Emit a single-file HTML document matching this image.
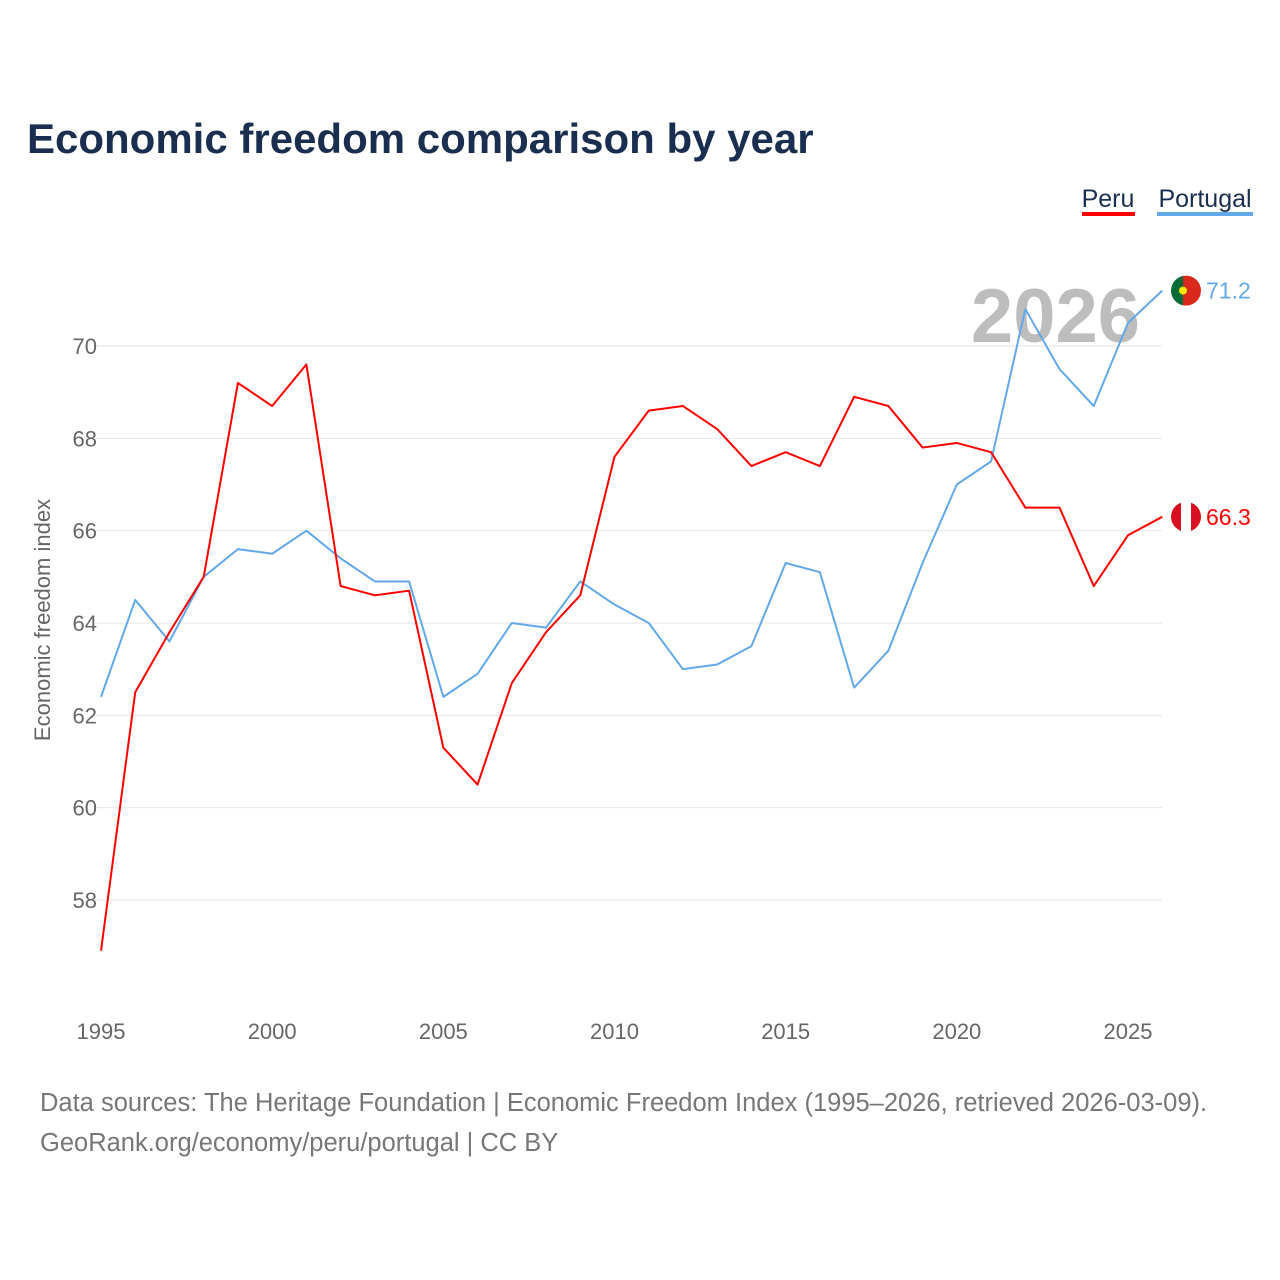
<!DOCTYPE html>
<html><head><meta charset="utf-8">
<style>
html,body{margin:0;padding:0;background:#fff;}
body{width:1280px;height:1280px;position:relative;font-family:"Liberation Sans",sans-serif;overflow:hidden;}
</style></head>
<body>
<svg id="chart" width="1280" height="1280" xmlns="http://www.w3.org/2000/svg" style="position:absolute;left:0;top:0">
<text x="27" y="153" font-size="42" font-weight="bold" fill="#1a2e4f">Economic freedom comparison by year</text>
<g>
<text x="1108" y="207" font-size="25" fill="#1a2e4f" text-anchor="middle">Peru</text>
<rect x="1082" y="212" width="53" height="4" fill="#f00"/>
</g>
<g>
<text x="1205" y="207" font-size="25" fill="#1a2e4f" text-anchor="middle">Portugal</text>
<rect x="1157" y="212" width="96" height="4" fill="#62a8ea"/>
</g>
<text x="1140" y="342" font-size="76" font-weight="bold" fill="#bdbdbd" text-anchor="end">2026</text>
<text transform="translate(50,620) rotate(-90)" font-size="22" fill="#666" text-anchor="middle">Economic freedom index</text>
<g id="grid"></g><g id="yticks"></g><g id="xticks"></g><g id="lines"></g>
<text x="40" y="1111" font-size="25.5" fill="#777">Data sources: The Heritage Foundation | Economic Freedom Index (1995–2026, retrieved 2026-03-09).</text>
<text x="40" y="1151" font-size="25.5" fill="#777">GeoRank.org/economy/peru/portugal | CC BY</text>
</svg>
<script>
const years=[1995,1996,1997,1998,1999,2000,2001,2002,2003,2004,2005,2006,2007,2008,2009,2010,2011,2012,2013,2014,2015,2016,2017,2018,2019,2020,2021,2022,2023,2024,2025,2026];
const peru=[56.9,62.5,63.8,65.0,69.2,68.7,69.6,64.8,64.6,64.7,61.3,60.5,62.7,63.8,64.6,67.6,68.6,68.7,68.2,67.4,67.7,67.4,68.9,68.7,67.8,67.9,67.7,66.5,66.5,64.8,65.9,66.3];
const portugal=[62.4,64.5,63.6,65.0,65.6,65.5,66.0,65.4,64.9,64.9,62.4,62.9,64.0,63.9,64.9,64.4,64.0,63.0,63.1,63.5,65.3,65.1,62.6,63.4,65.3,67.0,67.5,70.8,69.5,68.7,70.5,71.2];
const yTicks=[58,60,62,64,66,68,70];
const xTicks=[1995,2000,2005,2010,2015,2020,2025];
const NS="http://www.w3.org/2000/svg";
const X=y=>101+(y-1995)*(1027/30);
const Y=v=>346+(70-v)*(554/12);
function mk(t,a,p){const e=document.createElementNS(NS,t);for(const k in a)e.setAttribute(k,a[k]);document.getElementById(p).appendChild(e);return e;}
yTicks.forEach(v=>{
 const l=mk('line',{x1:95,x2:1162,y1:Y(v),y2:Y(v),stroke:'#e6e6e6','stroke-width':1},'grid');
 
 
 const t=mk('text',{x:97,y:Y(v)+8,'font-size':22,fill:'#666','text-anchor':'end'},'yticks');
 t.textContent=v;
 
 
});
xTicks.forEach(v=>{
 const t=mk('text',{x:X(v),y:1039,'font-size':22,fill:'#666','text-anchor':'middle'},'xticks');
 t.textContent=v;
 
 
});
function series(vals,color,name){
 const p=mk('polyline',{points:vals.map((v,i)=>X(years[i])+','+Y(v)).join(' '),fill:'none',stroke:color,'stroke-width':2,'stroke-linejoin':'round'},'lines');
 
 
 const last=vals[vals.length-1];
 const cx=1186,cy=Y(last);
 const g=mk('g',{},'lines');
 
 
 const gid=name+'clip';
 const cp=document.createElementNS(NS,'clipPath');cp.setAttribute('id',gid);
 const cc=document.createElementNS(NS,'circle');cc.setAttribute('cx',cx);cc.setAttribute('cy',cy);cc.setAttribute('r',15);cp.appendChild(cc);g.appendChild(cp);
 const inner=document.createElementNS(NS,'g');inner.setAttribute('clip-path','url(#'+gid+')');g.appendChild(inner);
 const r=(x,w,f)=>{const e=document.createElementNS(NS,'rect');e.setAttribute('x',x);e.setAttribute('y',cy-15);e.setAttribute('width',w);e.setAttribute('height',30);e.setAttribute('fill',f);inner.appendChild(e);};
 if(name==='peru'){r(cx-15,10,'#d91023');r(cx-5,10,'#fff');r(cx+5,10,'#d91023');}
 else{r(cx-15,12,'#046a38');r(cx-3,18,'#da291c');const c=document.createElementNS(NS,'circle');c.setAttribute('cx',cx-3);c.setAttribute('cy',cy);c.setAttribute('r',4);c.setAttribute('fill','#ffe900');inner.appendChild(c);}
 const t=mk('text',{x:1206,y:cy+8,'font-size':23,fill:color},'lines');
 t.textContent=last.toFixed(1);
 
 
}
series(portugal,'#62a8ea','portugal');
series(peru,'#ff0000','peru');
</script>
</body></html>
